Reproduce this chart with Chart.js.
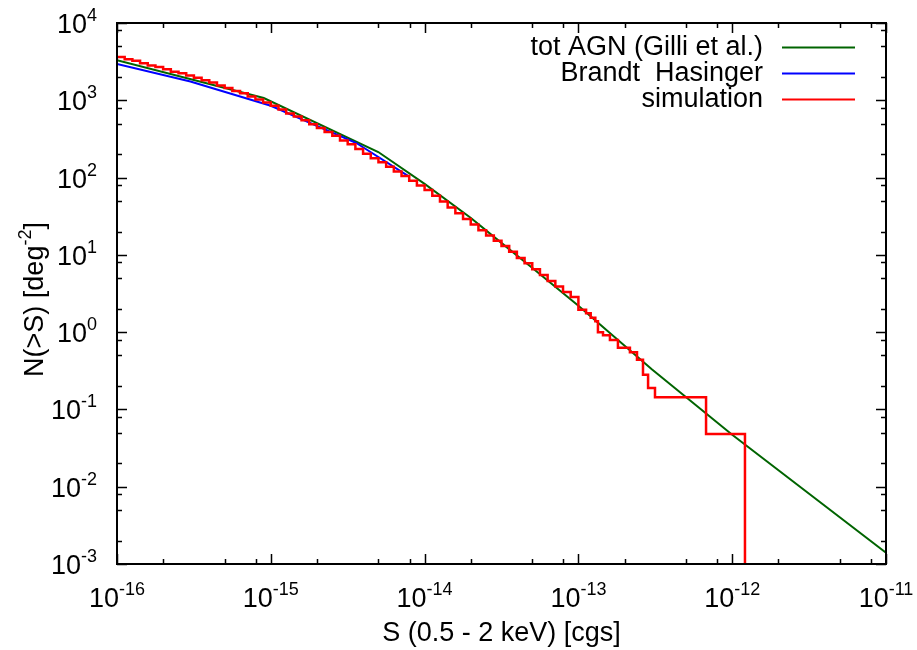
<!DOCTYPE html>
<html>
<head>
<meta charset="utf-8">
<script src="https://cdn.jsdelivr.net/npm/chart.js@4"></script>
<style>
  html, body { margin: 0; padding: 0; background: #ffffff; }
</style>
</head>
<body>
<canvas id="logNlogS" width="917" height="650"></canvas>
<script>
//----- DATA -----//
// tot AGN model (Gilli et al.)
const gilliS = [1e-16, 9e-16, 5e-15, 1e-14, 2e-14, 3e-14, 5e-14, 1e-13, 3e-13, 1e-12, 1e-11];
const gilliN = [3300, 1070, 214, 83, 30, 15.5, 6.8, 2.2, 0.33, 0.047, 0.0014];

// Brandt & Hasinger counts
const brandtS = [1e-16, 3e-16, 1e-15, 3.6e-15, 7.8e-15];
const brandtN = [2950, 1750, 850, 280, 105];

// simulated cumulative counts, log10 of the lower flux of each step
const simLogS = [
  -16.00, -15.95, -15.90, -15.85, -15.80, -15.75, -15.70, -15.65, -15.60, -15.55,
  -15.50, -15.45, -15.40, -15.35, -15.30, -15.25, -15.20, -15.15, -15.10, -15.05,
  -15.00, -14.95, -14.90, -14.85, -14.80, -14.75, -14.70, -14.65, -14.60, -14.55,
  -14.50, -14.45, -14.40, -14.35, -14.30, -14.25, -14.20, -14.15, -14.10, -14.05,
  -14.00, -13.95, -13.90, -13.85, -13.80, -13.75, -13.70, -13.65, -13.60, -13.55,
  -13.50, -13.45, -13.40, -13.35, -13.30, -13.25, -13.20, -13.15, -13.10, -13.05,
  -13.00, -12.95, -12.92, -12.89, -12.873, -12.840, -12.795, -12.743, -12.665, -12.619,
  -12.580, -12.547, -12.502, -12.170, -11.917
];
const simN = [
  3631, 3388, 3236, 3020, 2818, 2692, 2512, 2344, 2239, 2089,
  1950, 1820, 1698, 1549, 1445, 1318, 1230, 1122, 1023, 933,
  851, 759, 676, 617, 550, 490, 437, 389, 347, 302,
  269, 234, 204, 178, 158, 138, 120, 105, 91, 79,
  69, 58, 49, 41, 34.5, 29.2, 24.7, 20.8, 17.8, 15.2,
  13.0, 11.0, 9.1, 7.8, 6.5, 5.5, 4.6, 3.9, 3.3, 2.85,
  1.95, 1.75, 1.53, 1.38, 1.0, 0.91, 0.79, 0.63, 0.55, 0.44,
  0.28, 0.19, 0.144, 0.048, 0.0001
];

const xDecades = [-16, -15, -14, -13, -12, -11];
const yDecades = [-3, -2, -1, 0, 1, 2, 3, 4];
const minorSteps = [2, 5, 8];

const seriesNames = ['tot AGN (Gilli et al.)', 'Brandt  Hasinger', 'simulation'];
const seriesColors = ['#006400', '#0000ff', '#ff0000'];

const FONT = '"Liberation Sans", Arial, sans-serif';
const BIG = '27px ' + FONT;
const SUP = '18px ' + FONT;

//----- HELPERS -----//
const toPoints = (xs, ys) => xs.map((x, i) => ({ x: x, y: ys[i] }));

// "10" with a raised exponent
function drawPower(ctx, exp, x, y, align) {
  const sup = String(exp);
  ctx.font = BIG;
  const wb = ctx.measureText('10').width;
  ctx.font = SUP;
  const ws = ctx.measureText(sup).width;
  let left = x;
  if (align === 'center') left = x - (wb + ws) / 2;
  if (align === 'right') left = x - (wb + ws);
  ctx.textAlign = 'left';
  ctx.textBaseline = 'alphabetic';
  ctx.font = BIG;
  ctx.fillText('10', left, y);
  ctx.font = SUP;
  ctx.fillText(sup, left + wb, y - 12);
}

//----- PLUGINS -----//
// gnuplot style frame with inward ticks on all four sides
const framePlugin = {
  id: 'frame',
  afterDraw(chart) {
    const { ctx, chartArea: a, scales } = chart;
    const xs = scales.x, ys = scales.y;
    ctx.save();
    ctx.strokeStyle = '#000';
    ctx.lineWidth = 1.5;
    ctx.beginPath();

    xDecades.forEach(d => {
      const steps = [1].concat(d < xDecades[xDecades.length - 1] ? minorSteps : []);
      steps.forEach(m => {
        const px = Math.round(xs.getPixelForValue(m * Math.pow(10, d))) + 0.5;
        const len = m === 1 ? 10 : 5;
        ctx.moveTo(px, a.bottom); ctx.lineTo(px, a.bottom - len);
        ctx.moveTo(px, a.top); ctx.lineTo(px, a.top + len);
      });
    });
    yDecades.forEach(d => {
      const steps = [1].concat(d < yDecades[yDecades.length - 1] ? minorSteps : []);
      steps.forEach(m => {
        const py = Math.round(ys.getPixelForValue(m * Math.pow(10, d))) + 0.5;
        const len = m === 1 ? 10 : 5;
        ctx.moveTo(a.left, py); ctx.lineTo(a.left + len, py);
        ctx.moveTo(a.right, py); ctx.lineTo(a.right - len, py);
      });
    });
    ctx.stroke();

    ctx.lineWidth = 2;
    ctx.strokeRect(a.left, a.top, a.right - a.left, a.bottom - a.top);

    // tick labels
    ctx.fillStyle = '#000';
    xDecades.forEach(d => {
      drawPower(ctx, d, xs.getPixelForValue(Math.pow(10, d)), a.bottom + 43, 'center');
    });
    yDecades.forEach(d => {
      drawPower(ctx, d, a.left - 20, ys.getPixelForValue(Math.pow(10, d)) + 10, 'right');
    });

    // axis titles
    ctx.font = BIG;
    ctx.textAlign = 'center';
    ctx.textBaseline = 'alphabetic';
    ctx.fillText('S (0.5 - 2 keV) [cgs]', (a.left + a.right) / 2, a.bottom + 77);

    ctx.save();
    ctx.translate(43, (a.top + a.bottom) / 2 + 6);
    ctx.rotate(-Math.PI / 2);
    const t1 = 'N(>S) [deg', t2 = '-2', t3 = ']';
    ctx.font = BIG;
    const w1 = ctx.measureText(t1).width, w3 = ctx.measureText(t3).width;
    ctx.font = SUP;
    const w2 = ctx.measureText(t2).width;
    const left = -(w1 + w2 + w3) / 2;
    ctx.textAlign = 'left';
    ctx.font = BIG;
    ctx.fillText(t1, left, 0);
    ctx.font = SUP;
    ctx.fillText(t2, left + w1, -12);
    ctx.font = BIG;
    ctx.fillText(t3, left + w1 + w2, 0);
    ctx.restore();

    // key, top right
    chart.data.datasets.forEach((ds, i) => {
      const ry = a.top + 24 + i * 26;
      ctx.font = BIG;
      ctx.textAlign = 'right';
      ctx.textBaseline = 'middle';
      ctx.fillStyle = '#000';
      ctx.fillText(ds.label, a.right - 123, ry + 1);
      ctx.strokeStyle = ds.borderColor;
      ctx.lineWidth = 2;
      ctx.beginPath();
      ctx.moveTo(a.right - 104, ry + 0.5);
      ctx.lineTo(a.right - 31, ry + 0.5);
      ctx.stroke();
    });
    ctx.restore();
  }
};

//----- CONFIG -----//
const config = {
  type: 'line',
  data: {
    datasets: [{
      label: seriesNames[0],
      data: toPoints(gilliS, gilliN),
      borderColor: seriesColors[0],
      borderWidth: 2,
      pointRadius: 0,
      order: 3
    }, {
      label: seriesNames[1],
      data: toPoints(brandtS, brandtN),
      borderColor: seriesColors[1],
      borderWidth: 2,
      pointRadius: 0,
      order: 2
    }, {
      label: seriesNames[2],
      data: toPoints(simLogS.map(v => Math.pow(10, v)), simN),
      borderColor: seriesColors[2],
      borderWidth: 2.5,
      pointRadius: 0,
      stepped: 'before',
      order: 1
    }]
  },
  options: {
    responsive: false,
    animation: false,
    devicePixelRatio: 1,
    layout: { padding: { left: 117, right: 31, top: 23, bottom: 86 } },
    plugins: { legend: { display: false }, tooltip: { enabled: false } },
    scales: {
      x: { type: 'logarithmic', display: false, min: 1e-16, max: 1e-11 },
      y: { type: 'logarithmic', display: false, min: 1e-3, max: 1e4 }
    }
  },
  plugins: [framePlugin]
};

//----- RENDER -----//
const chart = new Chart(document.getElementById('logNlogS'), config);
</script>
</body>
</html>
